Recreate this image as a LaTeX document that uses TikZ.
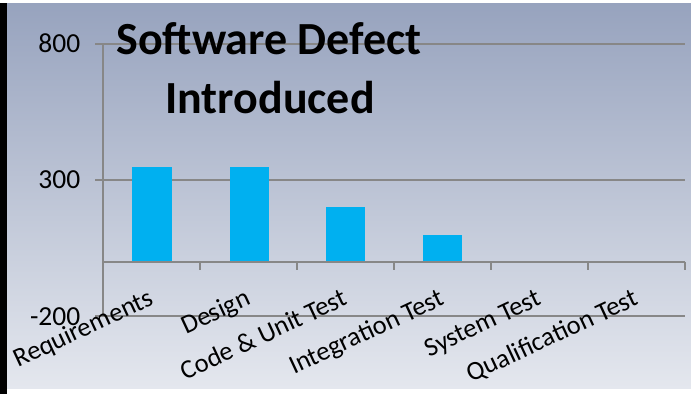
\documentclass[tikz,border=0pt]{standalone}
\usepackage{fontspec}
\setmainfont{Carlito}
\definecolor{barblue}{HTML}{00B0F0}
\definecolor{gridgray}{HTML}{878787}
\definecolor{bgtop}{RGB}{151,163,190}
\definecolor{bgbot}{RGB}{228,231,238}
\begin{document}
\begin{tikzpicture}[x=1pt,y=-1pt,
  grid/.style={draw=gridgray,line width=2pt},
  bar/.style={fill=barblue},
  catlabel/.style={font=\fontsize{26.5}{30}\selectfont,rotate=25,anchor=base east,inner sep=0pt},
  vallabel/.style={font=\fontsize{27.5}{30}\selectfont,anchor=east,inner sep=0pt},
  titletext/.style={font=\fontsize{46}{57}\selectfont\bfseries,inner sep=0pt}]
\useasboundingbox (0,0) rectangle (691,394);
\fill[white] (0,0) rectangle (691,394);
\shade[top color=bgtop,bottom color=bgbot] (7,3) rectangle (691,388);
\fill[black] (0,3) rectangle (7,394);
% gridlines
\draw[grid] (95,43.7) -- (685,43.7);
\draw[grid] (95,180) -- (685,180);
\draw[grid] (95,315.7) -- (685,315.7);
% bars
\fill[bar] (132,167) rectangle (171.5,261.6);
\fill[bar] (229.5,167) rectangle (268.5,261.6);
\fill[bar] (326,207) rectangle (365,261.6);
\fill[bar] (423,235) rectangle (462,261.6);
% axes
\draw[grid] (103,43.7) -- (103,315.7);
\draw[grid] (103,261.6) -- (685,261.6);
\foreach \i in {1,...,6} \draw[grid] ({103+97*\i},261.6) -- ({103+97*\i},269.5);
% value labels
\node[vallabel] (v800) at (80.5,43.7) {800};
\node[vallabel] (v300) at (80.5,180) {300};
\node[vallabel] (vm200) at (80.5,316.5) {-200};
% category labels
\node[catlabel] (c1) at (155,304) {Requirements};
\node[catlabel] (c2) at (252,304) {Design};
\node[catlabel] (c3) at (349,304) {Code \& Unit Test};
\node[catlabel] (c4) at (446,304) {Integration Test};
\node[catlabel] (c5) at (543,304) {System Test};
\node[catlabel] (c6) at (640,304) {Qualification Test};
% title
\node[titletext,anchor=base] (t1) at (269,54) {Software Defect};
\node[titletext,anchor=base] (t2) at (270,113) {Introduced};
\end{tikzpicture}
\end{document}
